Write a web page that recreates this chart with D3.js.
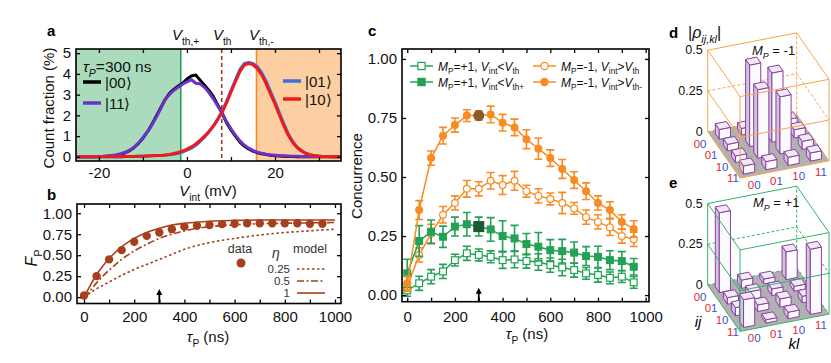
<!DOCTYPE html>
<meta charset="utf-8">
<style>
  body { margin: 0; background: #fff; }
  svg { font-family: "Liberation Sans", Arial, sans-serif; }
</style>
<body>
<div id="chart"></div>
<script src="https://d3js.org/d3.v7.min.js"></script>
<script>
// ---- panel a: readout histograms ----
var vGrid = [-25,-24,-23,-22,-21,-20,-19,-18,-17,-16,-15,-14,-13,-12,-11,-10,-9,-8,-7,-6,-5,-4,-3,-2,-1,
  0,1,2,3,4,5,6,7,8,9,10,11,12,13,14,15,16,17,18,19,20,21,22,23,24,25,26,27,28,29,30,31,32,33,34,35];
var hist00 = [0,0,0,0,0,0.01,0.02,0.03,0.05,0.08,0.13,0.2,0.3,0.45,0.65,0.9,1.2,1.55,1.95,2.35,2.75,3.05,3.25,3.4,3.55,
  3.75,3.9,3.95,3.7,3.45,3.2,2.9,2.5,2.1,1.65,1.3,1.0,0.72,0.52,0.38,0.28,0.2,0.15,0.11,0.08,0.06,0.04,0.03,0.02,0.02,0.01,0.01,0.01,0,0,0,0,0,0,0,0];
var hist11 = [0,0,0,0,0.01,0.02,0.03,0.05,0.07,0.1,0.15,0.22,0.32,0.47,0.68,0.92,1.2,1.52,1.9,2.3,2.75,3.0,3.2,3.35,3.5,
  3.62,3.72,3.55,3.52,3.35,3.1,2.8,2.45,2.1,1.7,1.35,1.05,0.78,0.57,0.42,0.31,0.23,0.17,0.13,0.1,0.08,0.06,0.05,0.04,0.03,0.03,0.02,0.02,0.02,0.02,0.02,0.02,0.02,0.02,0.02,0.02];
var hist01 = [0,0,0,0,0,0,0.01,0.01,0.01,0.01,0.01,0.02,0.02,0.02,0.03,0.03,0.04,0.05,0.06,0.07,0.08,0.1,0.13,0.17,0.23,
  0.32,0.42,0.56,0.74,0.95,1.2,1.48,1.82,2.2,2.68,3.2,3.7,4.2,4.5,4.55,4.5,4.35,4.05,3.65,3.15,2.65,2.12,1.6,1.12,0.75,0.48,0.3,0.17,0.1,0.06,0.04,0.02,0.02,0.01,0.01,0.01];
var hist10 = [0,0,0,0,0,0,0.01,0.01,0.01,0.01,0.01,0.02,0.02,0.02,0.03,0.03,0.04,0.05,0.06,0.07,0.09,0.12,0.16,0.21,0.28,
  0.37,0.48,0.62,0.8,1.0,1.22,1.48,1.8,2.15,2.6,3.12,3.62,4.1,4.42,4.5,4.45,4.25,3.95,3.52,3.02,2.55,2.02,1.5,1.05,0.7,0.45,0.28,0.16,0.09,0.05,0.03,0.02,0.02,0.01,0.01,0.01];
var vThPlus = -1.4, vTh = 7.9, vThMinus = 15.8;

// ---- panel b: fidelity vs tau ----
var tauB = [0,50,100,150,200,250,300,350,400,450,500,550,600,650,700,750,800,850,900,950];
var fpData = [0.02,0.25,0.45,0.56,0.66,0.73,0.77,0.81,0.84,0.85,0.86,0.87,0.875,0.88,0.88,0.88,0.88,0.88,0.875,0.875];
var tauModel = [0,25,50,75,100,150,200,250,300,350,400,500,600,700,800,900,1000];
var fpEta025 = [0,0.05,0.1,0.14,0.18,0.26,0.33,0.39,0.45,0.51,0.57,0.65,0.7,0.74,0.77,0.79,0.81];
var fpEta05 = [0,0.08,0.17,0.25,0.32,0.45,0.55,0.63,0.7,0.75,0.79,0.84,0.86,0.875,0.88,0.885,0.89];
var fpEta1 = [0,0.14,0.27,0.37,0.46,0.6,0.7,0.77,0.82,0.86,0.88,0.905,0.915,0.92,0.92,0.92,0.92];

// ---- panel c: concurrence vs tau ----
var tauC = [0,50,100,150,200,250,300,350,400,450,500,550,600,650,700,750,800,850,900,950];
var concMinusHi = [0.05,0.36,0.58,0.675,0.72,0.76,0.76,0.765,0.73,0.71,0.66,0.62,0.58,0.534,0.487,0.44,0.39,0.36,0.31,0.28];
var errMinusHi = [0.03,0.04,0.03,0.035,0.03,0.025,0.02,0.035,0.035,0.035,0.04,0.045,0.035,0.04,0.035,0.035,0.03,0.035,0.03,0.035];
var concMinus = [0.035,0.17,0.26,0.34,0.39,0.45,0.45,0.484,0.466,0.484,0.44,0.42,0.407,0.39,0.367,0.33,0.31,0.287,0.25,0.236];
var errMinus = [0.02,0.03,0.04,0.035,0.03,0.035,0.03,0.035,0.04,0.04,0.025,0.03,0.025,0.045,0.025,0.03,0.03,0.035,0.03,0.03];
var concPlusHi = [0.092,0.229,0.268,0.247,0.29,0.3,0.29,0.278,0.25,0.24,0.216,0.205,0.19,0.186,0.18,0.165,0.162,0.148,0.144,0.12];
var errPlusHi = [0.06,0.065,0.05,0.045,0.04,0.05,0.04,0.05,0.065,0.055,0.045,0.06,0.045,0.05,0.045,0.04,0.045,0.04,0.04,0.035];
var concPlus = [0.02,0.05,0.078,0.1,0.148,0.177,0.17,0.162,0.148,0.151,0.144,0.14,0.127,0.117,0.106,0.092,0.085,0.073,0.078,0.054];
var errPlus = [0.025,0.03,0.03,0.03,0.025,0.03,0.025,0.025,0.035,0.035,0.03,0.035,0.03,0.035,0.03,0.025,0.03,0.025,0.025,0.025];
var highlightTau = 300;

// ---- panels d, e: density matrices |rho_ij,kl| (rows ij, cols kl) ----
var basis = ["00","01","10","11"];
var rhoMinus = [
  [0.06,0.04,0.03,0.04],
  [0.04,0.50,0.425,0.05],
  [0.04,0.42,0.35,0.05],
  [0.05,0.05,0.05,0.05]
];
var rhoPlus = [
  [0.49,0.05,0.03,0.17],
  [0.04,0.05,0.04,0.03],
  [0.05,0.04,0.05,0.04],
  [0.17,0.02,0.04,0.40]
];
var rhoTicks = [0, 0.25, 0.5];

var svg = d3.select("#chart").append("svg").attr("width", 831).attr("height", 363);

var green = "#23a256", orange = "#f98b22", brown = "#a63f1c";

function rich(parent, x, y, parts, size, anchor) {
  var t = parent.append("text").attr("x", x).attr("y", y)
    .attr("font-size", size).attr("text-anchor", anchor || "start").attr("fill", "#111");
  var shift = 0;
  parts.forEach(function (p) {
    var st = p[1] || "";
    var sub = st.indexOf("s") >= 0;
    var target = sub ? size * 0.3 : 0;
    var ts = t.append("tspan").text(p[0]).attr("dy", target - shift);
    shift = target;
    if (sub) ts.attr("font-size", size * 0.68);
    if (st.indexOf("i") >= 0) ts.attr("font-style", "italic");
    if (p[2]) ts.attr("fill", p[2]);
  });
  return t;
}

function frame(x, y, xTicks, xLab, yTicks, yFmt, xPad) {
  var x0 = x.range()[0], x1 = x.range()[1], yb = y.range()[0], yt = y.range()[1];
  var fx = function (d) { return xLab.indexOf(d) >= 0 ? String(d) : ""; };
  var axes = [
    svg.append("g").attr("transform", "translate(0," + yb + ")")
      .call(d3.axisBottom(x).tickValues(xTicks).tickSizeInner(-4).tickSizeOuter(0).tickPadding(xPad).tickFormat(fx)),
    svg.append("g").attr("transform", "translate(0," + yt + ")")
      .call(d3.axisTop(x).tickValues(xTicks).tickSizeInner(-4).tickSizeOuter(0).tickFormat("")),
    svg.append("g").attr("transform", "translate(" + x0 + ",0)")
      .call(d3.axisLeft(y).tickValues(yTicks).tickSizeInner(-4).tickSizeOuter(0).tickPadding(5).tickFormat(yFmt)),
    svg.append("g").attr("transform", "translate(" + x1 + ",0)")
      .call(d3.axisRight(y).tickValues(yTicks).tickSizeInner(-4).tickSizeOuter(0).tickFormat(""))
  ];
  axes.forEach(function (a) {
    a.select(".domain").remove();
    a.attr("font-size", 15).attr("font-family", null);
    a.selectAll(".tick line").attr("stroke-width", 1.3);
    a.selectAll(".tick text").attr("fill", "#111");
  });
  svg.append("rect").attr("x", x0).attr("y", yt).attr("width", x1 - x0).attr("height", yb - yt)
    .attr("fill", "none").attr("stroke", "#000").attr("stroke-width", 1.6);
}

function arrow(x, yb) {
  svg.append("line").attr("x1", x).attr("x2", x).attr("y1", yb).attr("y2", yb - 9)
    .attr("stroke", "#000").attr("stroke-width", 1.8);
  svg.append("path").attr("d", "M" + (x - 3) + "," + (yb - 8) + "L" + x + "," + (yb - 14) + "L" + (x + 3) + "," + (yb - 8) + "Z")
    .attr("fill", "#000");
}

function label(x, y, s) {
  svg.append("text").attr("x", x).attr("y", y).attr("font-size", 15).attr("font-weight", "bold").text(s);
}

// ================= panel a =================
var xA = d3.scaleLinear().domain([-25.2, 35]).range([76, 341]);
var yA = d3.scaleLinear().domain([-0.2, 5.2]).range([161, 49]);
svg.append("clipPath").attr("id", "clipA").append("rect").attr("x", 76).attr("y", 49).attr("width", 265).attr("height", 112);
var gA = svg.append("g").attr("clip-path", "url(#clipA)");
gA.append("rect").attr("x", 76).attr("y", 49).attr("width", xA(vThPlus) - 76).attr("height", 112).attr("fill", "#aadbbd");
gA.append("rect").attr("x", xA(vThMinus)).attr("y", 49).attr("width", 341 - xA(vThMinus)).attr("height", 112).attr("fill", "#fdcea2");
gA.append("line").attr("x1", xA(vThPlus)).attr("x2", xA(vThPlus)).attr("y1", 49).attr("y2", 161).attr("stroke", green).attr("stroke-width", 1.6);
gA.append("line").attr("x1", xA(vThMinus)).attr("x2", xA(vThMinus)).attr("y1", 49).attr("y2", 161).attr("stroke", orange).attr("stroke-width", 1.6);
gA.append("line").attr("x1", xA(vTh)).attr("x2", xA(vTh)).attr("y1", 49).attr("y2", 161)
  .attr("stroke", "#9a3b2a").attr("stroke-width", 1.6).attr("stroke-dasharray", "4,3");
var histLine = d3.line().x(function (d, i) { return xA(vGrid[i]); }).y(function (d) { return yA(d); });
[[hist00, "#000"], [hist11, "#6a32c8"], [hist01, "#3a6fdc"], [hist10, "#f01a1a"]].forEach(function (s) {
  gA.append("path").attr("d", histLine(s[0])).attr("fill", "none").attr("stroke", s[1]).attr("stroke-width", 3).attr("stroke-linejoin", "round");
});
frame(xA, yA, [-20, -10, 0, 10, 20, 30], [-20, 0, 20], [0, 1, 2, 3, 4, 5], String, 6);
label(47, 36, "a");
rich(svg.append("g").attr("transform", "translate(54,108) rotate(-90)"), 0, 0, [["Count fraction (%)"]], 15, "middle");
rich(svg, 208, 196, [["V", "i"], ["int", "s"], [" (mV)"]], 15, "middle");
rich(svg, 172, 40, [["V", "i"], ["th,+", "s"]], 15);
rich(svg, 213, 40, [["V", "i"], ["th", "s"]], 15);
rich(svg, 249, 40, [["V", "i"], ["th,-", "s"]], 15);
rich(svg, 83, 72, [["\u03c4", "i"], ["P", "si"], ["=300 ns"]], 15.5);
[["#000", "|00\u27e9", 83, 82], ["#6a32c8", "|11\u27e9", 83, 103],
 ["#3a6fdc", "|01\u27e9", 283, 81], ["#f01a1a", "|10\u27e9", 283, 99]].forEach(function (s) {
  svg.append("line").attr("x1", s[2]).attr("x2", s[2] + 18).attr("y1", s[3]).attr("y2", s[3]).attr("stroke", s[0]).attr("stroke-width", 3.5);
  svg.append("text").attr("x", s[2] + 22).attr("y", s[3] + 5.5).attr("font-size", 15).attr("fill", "#111").text(s[1]);
});

// ================= panel b =================
var xB = d3.scaleLinear().domain([-28, 1024]).range([77, 341]);
var yB = d3.scaleLinear().domain([-0.076, 1.11]).range([303.5, 204]);
var modelLine = d3.line().x(function (d, i) { return xB(tauModel[i]); }).y(function (d) { return yB(d); }).curve(d3.curveMonotoneX);
[[fpEta025, "2.5,2.5"], [fpEta05, "7,2.5,2,2.5"], [fpEta1, null]].forEach(function (s) {
  svg.append("path").attr("d", modelLine(s[0])).attr("fill", "none").attr("stroke", brown)
    .attr("stroke-width", 1.6).attr("stroke-dasharray", s[1]);
});
svg.append("g").selectAll("circle").data(fpData).join("circle")
  .attr("cx", function (d, i) { return xB(tauB[i]); }).attr("cy", function (d) { return yB(d); })
  .attr("r", 4.2).attr("fill", brown);
frame(xB, yB, [0, 100, 200, 300, 400, 500, 600, 700, 800, 900, 1000], [0, 200, 400, 600, 800, 1000],
  [0, 0.25, 0.5, 0.75, 1], d3.format(".2f"), 8);
arrow(xB(300), 303);
label(47, 200, "b");
rich(svg.append("g").attr("transform", "translate(37,258) rotate(-90)"), 0, 0, [["F", "i"], ["P", "s"]], 16, "middle");
rich(svg, 208, 342, [["\u03c4", "i"], ["P", "s"], [" (ns)"]], 15, "middle");
svg.append("text").attr("x", 240).attr("y", 253).attr("font-size", 12.5).attr("text-anchor", "middle").attr("fill", "#333").text("data");
svg.append("circle").attr("cx", 241).attr("cy", 263).attr("r", 4.5).attr("fill", brown);
svg.append("text").attr("x", 276).attr("y", 258).attr("font-size", 14).attr("font-style", "italic").attr("text-anchor", "middle").attr("fill", "#333").text("\u03b7");
svg.append("text").attr("x", 310).attr("y", 253).attr("font-size", 12.5).attr("text-anchor", "middle").attr("fill", "#333").text("model");
[["0.25", "2.5,2.5", 269], ["0.5", "7,2.5,2,2.5", 281], ["1", null, 293]].forEach(function (s) {
  svg.append("text").attr("x", 290).attr("y", s[2] + 4).attr("font-size", 11.5).attr("text-anchor", "end").attr("fill", "#333").text(s[0]);
  svg.append("line").attr("x1", 297).attr("x2", 325).attr("y1", s[2]).attr("y2", s[2])
    .attr("stroke", brown).attr("stroke-width", 1.6).attr("stroke-dasharray", s[1]);
});

// ================= panel c =================
var xC = d3.scaleLinear().domain([-22, 1014]).range([402, 649]);
var yC = d3.scaleLinear().domain([-0.028, 1.042]).range([301.7, 49]);
var concLine = d3.line().x(function (d, i) { return xC(tauC[i]); }).y(function (d) { return yC(d); });
function series(vals, errs, color, shape, filled, hiColor) {
  var g = svg.append("g");
  g.append("path").attr("d", concLine(vals)).attr("fill", "none").attr("stroke", color).attr("stroke-width", 1.5);
  vals.forEach(function (v, i) {
    var x = xC(tauC[i]), lo = yC(v - errs[i]), hi = yC(v + errs[i]);
    g.append("path").attr("d", "M" + x + "," + lo + "V" + hi + "M" + (x - 4) + "," + lo + "H" + (x + 4) + "M" + (x - 4) + "," + hi + "H" + (x + 4))
      .attr("stroke", color).attr("stroke-width", 1.6).attr("fill", "none");
  });
  vals.forEach(function (v, i) {
    var x = xC(tauC[i]), y = yC(v);
    var hl = hiColor && tauC[i] === highlightTau;
    var s = hl ? 1.45 : 1;
    var m = shape === "circle"
      ? g.append("circle").attr("cx", x).attr("cy", y).attr("r", 3.4 * s)
      : g.append("rect").attr("x", x - 3.4 * s).attr("y", y - 3.4 * s).attr("width", 6.8 * s).attr("height", 6.8 * s);
    m.attr("fill", hl ? hiColor : (filled ? color : "#fff")).attr("stroke", hl ? hiColor : color).attr("stroke-width", 1.2);
  });
}
series(concPlus, errPlus, green, "square", false);
series(concMinus, errMinus, orange, "circle", false);
series(concPlusHi, errPlusHi, green, "square", true, "#1c5a33");
series(concMinusHi, errMinusHi, orange, "circle", true, "#8a5a2c");
frame(xC, yC, [0, 100, 200, 300, 400, 500, 600, 700, 800, 900, 1000], [0, 200, 400, 600, 800, 1000],
  [0, 0.25, 0.5, 0.75, 1], d3.format(".2f"), 9.5);
arrow(xC(300), 301.7);
label(368, 36, "c");
rich(svg.append("g").attr("transform", "translate(362,176) rotate(-90)"), 0, 0, [["Concurrence"]], 15, "middle");
rich(svg, 527, 339, [["\u03c4", "i"], ["P", "s"], [" (ns)"]], 15, "middle");
[[410, 66, green, "square", false, [["M", "i"], ["P", "s"], ["=+1, "], ["V", "i"], ["int", "s"], ["<"], ["V", "i"], ["th", "s"]]],
 [410, 82, green, "square", true, [["M", "i"], ["P", "s"], ["=+1, "], ["V", "i"], ["int", "s"], ["<"], ["V", "i"], ["th+", "s"]]],
 [533, 66, orange, "circle", false, [["M", "i"], ["P", "s"], ["=-1, "], ["V", "i"], ["int", "s"], [">"], ["V", "i"], ["th", "s"]]],
 [533, 82, orange, "circle", true, [["M", "i"], ["P", "s"], ["=-1, "], ["V", "i"], ["int", "s"], [">"], ["V", "i"], ["th-", "s"]]]
].forEach(function (s) {
  svg.append("line").attr("x1", s[0]).attr("x2", s[0] + 23).attr("y1", s[1]).attr("y2", s[1]).attr("stroke", s[2]).attr("stroke-width", 1.5);
  var cx = s[0] + 11.5;
  var m = s[3] === "circle" ? svg.append("circle").attr("cx", cx).attr("cy", s[1]).attr("r", 3.6)
    : svg.append("rect").attr("x", cx - 3.6).attr("y", s[1] - 3.6).attr("width", 7.2).attr("height", 7.2);
  m.attr("fill", s[4] ? s[2] : "#fff").attr("stroke", s[2]).attr("stroke-width", 1.2);
  rich(svg, s[0] + 28, s[1] + 4.5, s[5], 12);
});

// ================= panels d, e =================
var zRho = d3.scaleLinear().domain([0, 0.5]).range([0, 81.5]);
function drawRho(ox, oy, rho, boxColor) {
  var g = svg.append("g");
  var U = [22.25, -4.33], V = [8.08, 11.6];
  var P = function (u, v, w) { return [ox + u * U[0] + v * V[0], oy + u * U[1] + v * V[1] - zRho(w)]; };
  var poly = function (pts) { return pts.map(function (p) { return p.join(","); }).join(" "); };
  var seg = function (a, b, dash) {
    g.append("line").attr("x1", a[0]).attr("y1", a[1]).attr("x2", b[0]).attr("y2", b[1])
      .attr("stroke", boxColor).attr("stroke-width", 1).attr("stroke-dasharray", dash || null);
  };
  g.append("polygon").attr("points", poly([P(0, 0, 0), P(4, 0, 0), P(4, 4, 0), P(0, 4, 0)])).attr("fill", "#b1b1b1");
  seg(P(4, 0, 0), P(4, 0, 0.5), "3,2");
  seg(P(0, 0, 0.25), P(4, 0, 0.25), "3,2");
  seg(P(4, 0, 0.25), P(4, 4, 0.25), "3,2");
  seg(P(0, 0, 0), P(4, 0, 0), "3,2");
  seg(P(4, 0, 0), P(4, 4, 0), "3,2");
  var cells = [];
  rho.forEach(function (row, i) { row.forEach(function (h, j) { cells.push({ i: i, j: j, h: h }); }); });
  cells.sort(function (a, b) { return a.i - b.i || b.j - a.j; });
  cells.forEach(function (c) {
    var u0 = c.j + 0.25, u1 = c.j + 0.75, v0 = c.i + 0.25, v1 = c.i + 0.75, h = c.h;
    var faces = [
      [[P(u0, v0, 0), P(u0, v1, 0), P(u0, v1, h), P(u0, v0, h)], "#cfc6da"],
      [[P(u0, v1, 0), P(u1, v1, 0), P(u1, v1, h), P(u0, v1, h)], "#fbfafd"],
      [[P(u0, v0, h), P(u1, v0, h), P(u1, v1, h), P(u0, v1, h)], "#efeaf4"]
    ];
    faces.forEach(function (f) {
      g.append("polygon").attr("points", poly(f[0])).attr("fill", f[1])
        .attr("stroke", "#8e3ea6").attr("stroke-width", 1).attr("stroke-linejoin", "round");
    });
  });
  seg(P(0, 0, 0), P(0, 0, 0.5));
  seg(P(0, 4, 0), P(0, 4, 0.5));
  seg(P(4, 4, 0), P(4, 4, 0.5));
  seg(P(0, 0, 0.5), P(4, 0, 0.5));
  seg(P(4, 0, 0.5), P(4, 4, 0.5));
  seg(P(4, 4, 0.5), P(0, 4, 0.5));
  seg(P(0, 4, 0.5), P(0, 0, 0.5));
  seg(P(0, 0, 0), P(0, 4, 0));
  seg(P(0, 4, 0), P(4, 4, 0));
  seg(P(0, 0, 0.25), P(0, 4, 0.25));
  seg(P(0, 4, 0.25), P(4, 4, 0.25));
  rhoTicks.forEach(function (t) {
    var p = P(0, 0, t);
    svg.append("text").attr("x", p[0] - 5).attr("y", p[1] + 4).attr("font-size", 12.5)
      .attr("text-anchor", "end").attr("fill", "#111").text(String(t));
  });
  var base = P(0, 0.5, 0);
  basis.forEach(function (b, k) {
    rich(svg, base[0] - 11.7 + k * 11, base[1] + 10 + k * 11.6,
      [[b[0], "", "#e5262d"], [b[1], "", "#3556c8"]], 11.5, "middle");
    var q = P(k + 0.5, 4, 0);
    rich(svg, q[0] + 3, q[1] + 13, [[b[0], "", "#e5262d"], [b[1], "", "#3556c8"]], 11.5, "middle");
  });
}
drawRho(707.7, 131.7, rhoMinus, "#f8a548");
rich(svg, 752, 55, [["M", "i"], ["P", "si"], [" = -1"]], 13);
label(669, 38, "d");
rich(svg, 688, 38, [["|"], ["\u03c1", "i"], ["ij,kl", "si"], ["|"]], 16);

drawRho(707.7, 285, rhoPlus, "#34b26a");
rich(svg, 753, 207, [["M", "i"], ["P", "si"], [" = +1"]], 13);
label(669, 188, "e");
svg.append("text").attr("x", 698).attr("y", 327).attr("font-size", 15).attr("font-style", "italic").attr("text-anchor", "middle").text("ij");
svg.append("text").attr("x", 794).attr("y", 349).attr("font-size", 15).attr("font-style", "italic").attr("text-anchor", "middle").text("kl");
</script>
